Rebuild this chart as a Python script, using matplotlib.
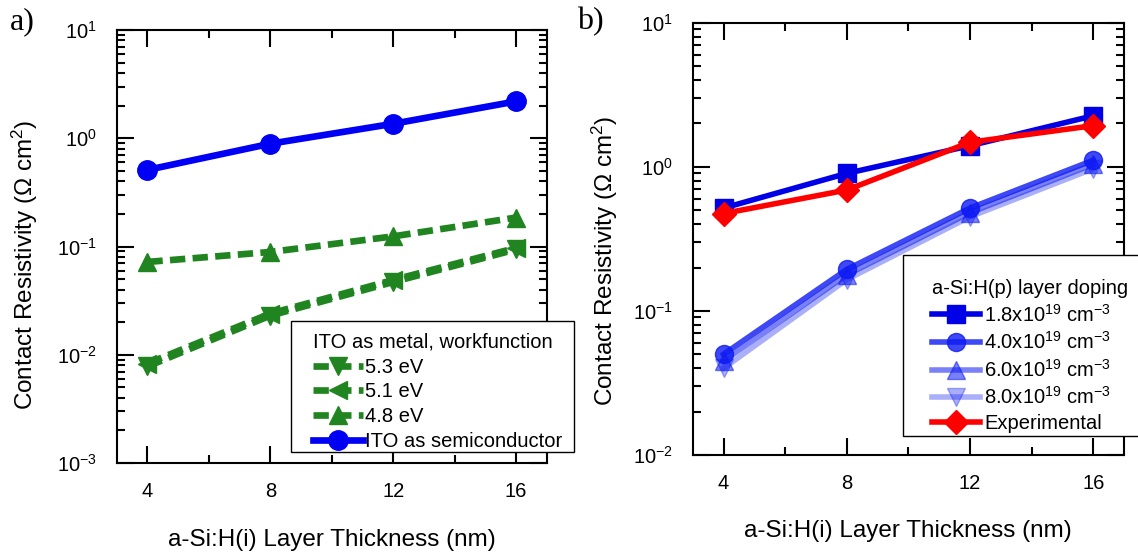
import numpy as np
import matplotlib.pyplot as plt
from matplotlib.ticker import MultipleLocator, LogLocator, NullFormatter
from matplotlib.patches import Rectangle

plt.rcParams['font.family'] = ['Liberation Sans', 'DejaVu Sans']
plt.rcParams['mathtext.fontset'] = 'custom'
plt.rcParams['mathtext.rm'] = 'Liberation Sans'
plt.rcParams['mathtext.it'] = 'Liberation Sans:italic'
plt.rcParams['mathtext.bf'] = 'Liberation Sans:bold'

thickness = [4, 8, 12, 16]

# panel a: ITO as metal (workfunctions) and as semiconductor
wf_53 = [0.0078, 0.023, 0.047, 0.094]
wf_51 = [0.0083, 0.024, 0.049, 0.097]
wf_48 = [0.072, 0.089, 0.124, 0.185]
ito_semi = [0.51, 0.89, 1.36, 2.19]

# panel b: a-Si:H(p) doping
dop_18 = [0.517, 0.90, 1.40, 2.26]
dop_40 = [0.050, 0.194, 0.517, 1.11]
dop_60 = [0.045, 0.178, 0.48, 1.04]
dop_80 = [0.040, 0.165, 0.45, 0.97]
experimental = [0.474, 0.69, 1.48, 1.93]

W, H = 1138, 555
fig = plt.figure(figsize=(W / 100, H / 100), dpi=100)


def px_axes(l, t, r, b):
    return fig.add_axes([l / W, 1 - b / H, (r - l) / W, (b - t) / H])


def style(ax, ylo):
    ax.set_yscale('log')
    ax.set_ylim(ylo, 10)
    ax.set_xlim(3, 17)
    ax.xaxis.set_major_locator(MultipleLocator(4))
    ax.xaxis.set_minor_locator(MultipleLocator(2))
    ax.yaxis.set_minor_locator(LogLocator(subs=np.arange(2, 10), numticks=20))
    ax.yaxis.set_minor_formatter(NullFormatter())
    ax.tick_params(which='both', direction='in', top=True, right=True,
                   width=1.5, labelsize=14.5, pad=14)
    ax.tick_params(which='major', length=12)
    ax.tick_params(which='minor', length=6)
    for s in ax.spines.values():
        s.set_linewidth(1.5)
    ax.set_xlabel('a-Si:H(i) Layer Thickness (nm)', fontsize=17.5)
    ax.set_ylabel('Contact Resistivity (Ω cm$^{2}$)', fontsize=17.5)


def legend_box(ax, l, t, r, b):
    ax.add_patch(Rectangle((l / W, 1 - b / H), (r - l) / W, (b - t) / H,
                           transform=fig.transFigure, clip_on=False,
                           facecolor='white', edgecolor='black', lw=1, zorder=4.5))


# ---- panel a ----
ax1 = px_axes(116.7, 30, 546.7, 463)
style(ax1, 1e-3)
green = '#208520'
dash = (0, (2.3, 1.1))
ax1.plot(thickness, wf_53, ls=dash, color=green, lw=4.8, marker='v', ms=13, label='5.3 eV')
ax1.plot(thickness, wf_51, ls=dash, color=green, lw=4.8, marker='<', ms=13, label='5.1 eV')
ax1.plot(thickness, wf_48, ls=dash, color=green, lw=4.8, marker='^', ms=13, label='4.8 eV')
ax1.plot(thickness, ito_semi, color='#0000f5', lw=4.8, marker='o', ms=14, label='ITO as semiconductor')
ax1.xaxis.set_label_coords(0.5, -0.152)
ax1.yaxis.set_label_coords(-0.178, 0.457)

legend_box(ax1, 291, 321, 574, 452)
ax1.legend(loc='upper left', bbox_to_anchor=(313 / W, 1 - 333 / H),
           bbox_transform=fig.transFigure, frameon=False,
           title='ITO as metal, workfunction', alignment='left',
           fontsize=14.5, title_fontsize=14.5, handlelength=2.5, handletextpad=0.1,
           borderpad=0, borderaxespad=0, labelspacing=0.28)

# ---- panel b ----
ax2 = px_axes(692.7, 22.7, 1124, 455)
style(ax2, 1e-2)
blue = (0.05, 0.1, 0.95)
l80, = ax2.plot(thickness, dop_80, color=blue, alpha=0.35, lw=4, marker='v', ms=13,
                label='8.0x10$^{19}$ cm$^{-3}$')
l60, = ax2.plot(thickness, dop_60, color=blue, alpha=0.55, lw=4, marker='^', ms=13,
                label='6.0x10$^{19}$ cm$^{-3}$')
l40, = ax2.plot(thickness, dop_40, color=blue, alpha=0.8, lw=4, marker='o', ms=13,
                label='4.0x10$^{19}$ cm$^{-3}$')
l18, = ax2.plot(thickness, dop_18, color='#0000e6', lw=4, marker='s', ms=12.5,
                label='1.8x10$^{19}$ cm$^{-3}$')
lex, = ax2.plot(thickness, experimental, color='#ff0000', lw=4, marker='D', ms=12,
                label='Experimental')
ax2.xaxis.set_label_coords(0.5, -0.150)
ax2.yaxis.set_label_coords(-0.169, 0.449)

legend_box(ax2, 903, 255, 1145, 436)
ax2.legend(handles=[l18, l40, l60, l80, lex], loc='upper left',
           bbox_to_anchor=(932 / W, 1 - 279 / H), bbox_transform=fig.transFigure,
           frameon=False, title='a-Si:H(p) layer doping', alignment='left',
           fontsize=14.5, title_fontsize=14.5, handlelength=2.4, handletextpad=0.2,
           borderpad=0, borderaxespad=0, labelspacing=0.28)

fig.text(10 / W, 1 - 22 / H, 'a)', family='Liberation Serif', fontsize=23, va='center', ha='left')
fig.text(577 / W, 1 - 22 / H, 'b)', family='Liberation Serif', fontsize=23, va='center', ha='left')

fig.savefig('out.png', dpi=100)
